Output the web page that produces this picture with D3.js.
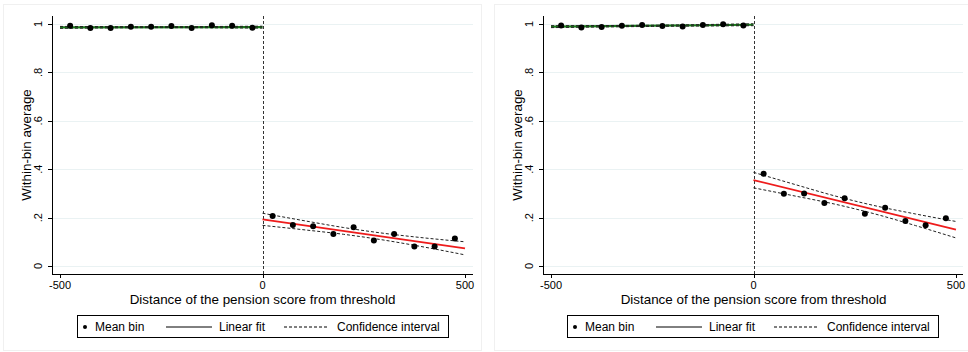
<!DOCTYPE html>
<html>
<head>
<meta charset="utf-8">
<script src="https://cdn.jsdelivr.net/npm/d3@7"></script>
<style>
  body { margin: 0; background: #fff; }
  svg { font-family: "Liberation Sans", Arial, sans-serif; }
</style>
</head>
<body>
<div id="chart"></div>
<script>
// bin centres
const binsBelow = [-475, -425, -375, -325, -275, -225, -175, -125, -75, -25];
const binsAbove = [25, 75, 125, 175, 225, 275, 325, 375, 425, 475];

// panel A (left)
const aMeansBelow = [0.993, 0.983, 0.983, 0.989, 0.989, 0.992, 0.983, 0.995, 0.993, 0.985];
const aMeansAbove = [0.207, 0.169, 0.164, 0.132, 0.160, 0.105, 0.132, 0.081, 0.081, 0.114];
const aFitBelow = [0.986, 0.987];
const aFitAbove = [0.193, 0.073];
const aCiBelowHi = [0.990, 0.989, 0.991];
const aCiBelowLo = [0.982, 0.985, 0.983];
const aCiAboveHi = [0.218, 0.188, 0.159, 0.135, 0.116, 0.100];
const aCiAboveLo = [0.168, 0.150, 0.131, 0.107, 0.078, 0.046];

// panel B (right)
const bMeansBelow = [0.994, 0.986, 0.988, 0.993, 0.996, 0.992, 0.990, 0.996, 0.999, 0.994];
const bMeansAbove = [0.381, 0.299, 0.300, 0.260, 0.280, 0.216, 0.241, 0.186, 0.168, 0.197];
const bFitBelow = [0.989, 0.997];
const bFitAbove = [0.355, 0.150];
const bCiBelowHi = [0.993, 0.995, 1.001];
const bCiBelowLo = [0.985, 0.990, 0.993];
const bCiAboveHi = [0.387, 0.338, 0.290, 0.249, 0.215, 0.184];
const bCiAboveLo = [0.323, 0.290, 0.256, 0.215, 0.167, 0.116];

const fitXBelow = [-500, 0];
const fitXAbove = [0, 500];
const ciXBelow = [-500, -250, 0];
const ciXAbove = [0, 100, 200, 300, 400, 500];

const xTicks = [-500, 0, 500];
const yTicks = [0, 0.2, 0.4, 0.6, 0.8, 1];
const yTickLabels = ["0", ".2", ".4", ".6", ".8", "1"];
const legendLabels = ["Mean bin", "Linear fit", "Confidence interval"];

const xTitle = "Distance of the pension score from threshold";
const yTitle = "Within-bin average";

const panels = [
  { left: 52, right: 473, frame: [3, 4, 478, 346], legend: 77,
    below: aMeansBelow, above: aMeansAbove, fitB: aFitBelow, fitA: aFitAbove,
    ciBH: aCiBelowHi, ciBL: aCiBelowLo, ciAH: aCiAboveHi, ciAL: aCiAboveLo },
  { left: 543, right: 963, frame: [494, 4, 474, 346], legend: 567,
    below: bMeansBelow, above: bMeansAbove, fitB: bFitBelow, fitA: bFitAbove,
    ciBH: bCiBelowHi, ciBL: bCiBelowLo, ciAH: bCiAboveHi, ciAL: bCiAboveLo }
];

const svg = d3.select('#chart').append('svg')
  .attr('width', 968).attr('height', 352);

const plotTop = 16, plotBottom = 274;

panels.forEach(p => {
  // faint graph region outline
  svg.append('rect')
    .attr('x', p.frame[0] + 0.5).attr('y', p.frame[1] + 0.5)
    .attr('width', p.frame[2]).attr('height', p.frame[3])
    .attr('fill', 'none').attr('stroke', '#f0f0f0');

  const xScale = d3.scaleLinear().domain([-500, 500])
    .range([p.left + 8, p.left + 8 + 405]);
  const yScale = d3.scaleLinear().domain([0, 1]).range([266, 24]);

  const g = svg.append('g');

  // gridlines
  g.selectAll('.grid').data(yTicks).enter().append('line')
    .attr('x1', p.left).attr('x2', p.right)
    .attr('y1', d => Math.round(yScale(d)) + 0.5)
    .attr('y2', d => Math.round(yScale(d)) + 0.5)
    .attr('stroke', '#eaf2f3').attr('stroke-width', 1);

  // y axis
  g.append('line').attr('x1', p.left + 0.5).attr('x2', p.left + 0.5)
    .attr('y1', plotTop).attr('y2', plotBottom).attr('stroke', '#000');
  g.selectAll('.ytick').data(yTicks).enter().append('line')
    .attr('x1', p.left - 4).attr('x2', p.left)
    .attr('y1', d => Math.round(yScale(d)) + 0.5)
    .attr('y2', d => Math.round(yScale(d)) + 0.5)
    .attr('stroke', '#000');
  g.selectAll('.ylab').data(yTicks).enter().append('text')
    .attr('transform', d => `translate(${p.left - 10},${yScale(d)}) rotate(-90)`)
    .attr('text-anchor', 'middle')
    .attr('font-size', 11)
    .text((d, i) => yTickLabels[i]);
  g.append('text')
    .attr('transform', `translate(${p.left - 21},${(plotTop + plotBottom) / 2}) rotate(-90)`)
    .attr('text-anchor', 'middle').attr('font-size', 13.4)
    .text(yTitle);

  // x axis
  g.append('line').attr('x1', p.left).attr('x2', p.right)
    .attr('y1', plotBottom + 0.5).attr('y2', plotBottom + 0.5).attr('stroke', '#000');
  g.selectAll('.xtick').data(xTicks).enter().append('line')
    .attr('x1', d => Math.round(xScale(d)) + 0.5).attr('x2', d => Math.round(xScale(d)) + 0.5)
    .attr('y1', plotBottom).attr('y2', plotBottom + 4).attr('stroke', '#000');
  g.selectAll('.xlab').data(xTicks).enter().append('text')
    .attr('x', d => xScale(d)).attr('y', 289)
    .attr('text-anchor', 'middle').attr('font-size', 11)
    .text(d => d);
  g.append('text')
    .attr('x', xScale(0)).attr('y', 303.5)
    .attr('text-anchor', 'middle').attr('font-size', 13.4)
    .text(xTitle);

  // threshold
  g.append('line')
    .attr('x1', Math.round(xScale(0)) + 0.5).attr('x2', Math.round(xScale(0)) + 0.5)
    .attr('y1', plotTop).attr('y2', plotBottom)
    .attr('stroke', '#333').attr('stroke-dasharray', '3,2');

  const line = d3.line().x(d => xScale(d[0])).y(d => yScale(d[1]));

  // fits
  g.append('path').datum(d3.zip(fitXBelow, p.fitB)).attr('d', line)
    .attr('fill', 'none').attr('stroke', '#1a7a1a').attr('stroke-width', 2.2);
  g.append('path').datum(d3.zip(fitXAbove, p.fitA)).attr('d', line)
    .attr('fill', 'none').attr('stroke', '#ee1c1c').attr('stroke-width', 1.8);

  // confidence intervals
  [[ciXBelow, p.ciBH], [ciXBelow, p.ciBL], [ciXAbove, p.ciAH], [ciXAbove, p.ciAL]]
    .forEach(([xs, ys]) => {
      g.append('path').datum(d3.zip(xs, ys)).attr('d', d3.line().curve(d3.curveMonotoneX)
        .x(d => xScale(d[0])).y(d => yScale(d[1])))
        .attr('fill', 'none').attr('stroke', '#222').attr('stroke-width', 1)
        .attr('stroke-dasharray', '3,2');
    });

  // bin means
  const pts = d3.zip(binsBelow, p.below).concat(d3.zip(binsAbove, p.above));
  g.selectAll('.pt').data(pts).enter().append('circle')
    .attr('cx', d => xScale(d[0])).attr('cy', d => yScale(d[1]))
    .attr('r', 3).attr('fill', '#000');

  // legend
  const lx = p.legend, ly = 315;
  const leg = g.append('g');
  leg.append('rect').attr('x', lx + 0.5).attr('y', ly + 0.5)
    .attr('width', 371).attr('height', 22)
    .attr('fill', '#fff').attr('stroke', '#000');
  const my = ly + 12;
  leg.append('circle').attr('cx', lx + 8).attr('cy', my).attr('r', 2).attr('fill', '#000');
  leg.append('line').attr('x1', lx + 89).attr('x2', lx + 135)
    .attr('y1', my).attr('y2', my).attr('stroke', '#000');
  leg.append('line').attr('x1', lx + 207).attr('x2', lx + 252)
    .attr('y1', my).attr('y2', my).attr('stroke', '#000').attr('stroke-dasharray', '3,2');
  const textX = [lx + 18, lx + 142, lx + 260];
  leg.selectAll('.lt').data(legendLabels).enter().append('text')
    .attr('x', (d, i) => textX[i]).attr('y', ly + 15.5)
    .attr('font-size', 12).text(d => d);
});
</script>
</body>
</html>
